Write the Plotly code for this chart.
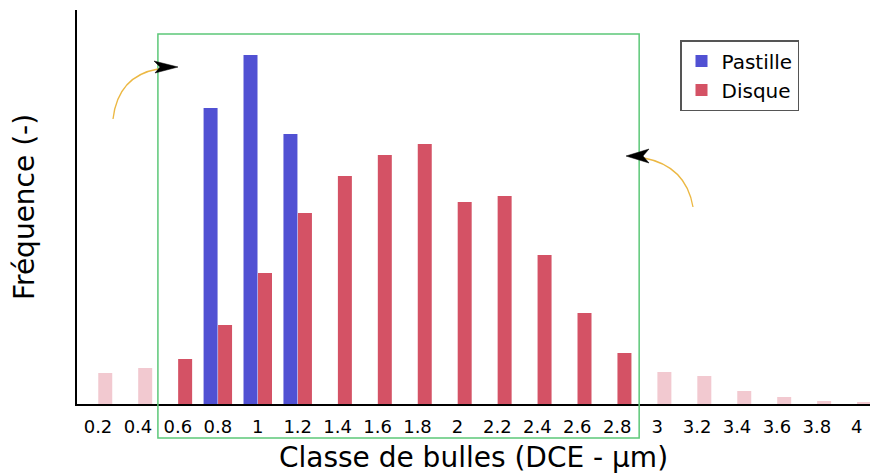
import plotly.graph_objects as go

# ---- data ----
classes = [0.2, 0.4, 0.6, 0.8, 1.0, 1.2, 1.4, 1.6, 1.8, 2.0,
           2.2, 2.4, 2.6, 2.8, 3.0, 3.2, 3.4, 3.6, 3.8, 4.0]
tick_labels = ["0.2", "0.4", "0.6", "0.8", "1", "1.2", "1.4", "1.6", "1.8", "2",
               "2.2", "2.4", "2.6", "2.8", "3", "3.2", "3.4", "3.6", "3.8", "4"]
pastille = [0, 0, 0, 296, 349, 270, 0, 0, 0, 0,
            0, 0, 0, 0, 0, 0, 0, 0, 0, 0]
disque = [31, 36, 45, 79, 131, 191, 228, 249, 260, 202,
          208, 149, 91, 51, 32, 28, 13, 7, 3, 2]
window_lo, window_hi = 0.5, 2.91  # highlighted range (green box)

BLUE = "#5151d3"
RED = "#d45265"
PINK = "#f2c9d0"

inside = [window_lo < c < window_hi for c in classes]
disque_in = [v if k else None for v, k in zip(disque, inside)]
disque_out = [None if k else v for v, k in zip(disque, inside)]

fig = go.Figure()
fig.add_trace(go.Bar(x=classes, y=pastille, name="Pastille", marker_color=BLUE,
                     marker_line_width=0, offsetgroup="p"))
fig.add_trace(go.Bar(x=classes, y=disque_in, name="Disque", marker_color=RED,
                     marker_line_width=0, offsetgroup="d"))
fig.add_trace(go.Bar(x=classes, y=disque_out, name="Disque (hors zone)", marker_color=PINK,
                     marker_line_width=0, offsetgroup="d", showlegend=False))

W, H = 870, 474
ML, MR, MT, MB = 77, 0, 10, 70
PW, PH = W - ML - MR, H - MT - MB
xr = [0.0948, 4.066]
yr = [0, 394]


def px(xp):
    return (xp - ML) / PW


def py(yp):
    return (H - MB - yp) / PH


def dx(v):
    return (v - xr[0]) / (xr[1] - xr[0])


shapes = []
# green highlight box
shapes.append(dict(type="rect", xref="paper", yref="paper",
                   x0=dx(window_lo), x1=dx(window_hi), y0=py(438), y1=py(34),
                   line=dict(color="#5cc878", width=1.5), fillcolor="rgba(0,0,0,0)",
                   layer="above"))
# left curved arrow
shapes.append(dict(type="path", xref="paper", yref="paper",
                   path=f"M {px(113)},{py(119)} Q {px(118)},{py(76)} {px(158)},{py(69)}",
                   line=dict(color="#ecb843", width=1.3)))
shapes.append(dict(type="path", xref="paper", yref="paper",
                   path=(f"M {px(178)},{py(67)} L {px(154)},{py(61)} L {px(160)},{py(67)} "
                         f"L {px(155)},{py(73)} Z"),
                   fillcolor="black", line=dict(color="black", width=0.5)))
# right curved arrow
shapes.append(dict(type="path", xref="paper", yref="paper",
                   path=f"M {px(644)},{py(158)} Q {px(686)},{py(166)} {px(693)},{py(207)}",
                   line=dict(color="#ecb843", width=1.3)))
shapes.append(dict(type="path", xref="paper", yref="paper",
                   path=(f"M {px(626)},{py(156)} L {px(649)},{py(149)} L {px(643)},{py(156)} "
                         f"L {px(649)},{py(163)} Z"),
                   fillcolor="black", line=dict(color="black", width=0.5)))

fig.update_layout(
    width=W, height=H,
    margin=dict(l=ML, r=MR, t=MT, b=MB, autoexpand=False),
    paper_bgcolor="white", plot_bgcolor="white",
    font=dict(family="DejaVu Sans", color="black"),
    barmode="group", bargap=0.274, bargroupgap=0.035,
    showlegend=True,
    legend=dict(x=px(680), y=py(40), xanchor="left", yanchor="top",
                bordercolor="#555555", borderwidth=1.5, bgcolor="white",
                font=dict(size=20, family="DejaVu Sans"),
                itemwidth=30, tracegroupgap=0),
    xaxis=dict(range=xr, tickmode="array", tickvals=classes, ticktext=tick_labels,
               showgrid=False, zeroline=False, showline=True, linecolor="black",
               linewidth=1.5, ticks="", tickfont=dict(size=18), automargin=False,
               ticklabelstandoff=6,
               title=dict(text="Classe de bulles (DCE - µm)", font=dict(size=28),
                          standoff=25)),
    yaxis=dict(range=yr, showgrid=False, zeroline=False, showline=True,
               linecolor="black", linewidth=1.5, showticklabels=False, ticks="",
               automargin=False,
               title=dict(text="Fréquence (-)", font=dict(size=28), standoff=32)),
    shapes=shapes,
)

fig.write_html("out.html", config={"displayModeBar": False},
               post_script="document.body.style.margin='0';document.body.style.padding='0';")
